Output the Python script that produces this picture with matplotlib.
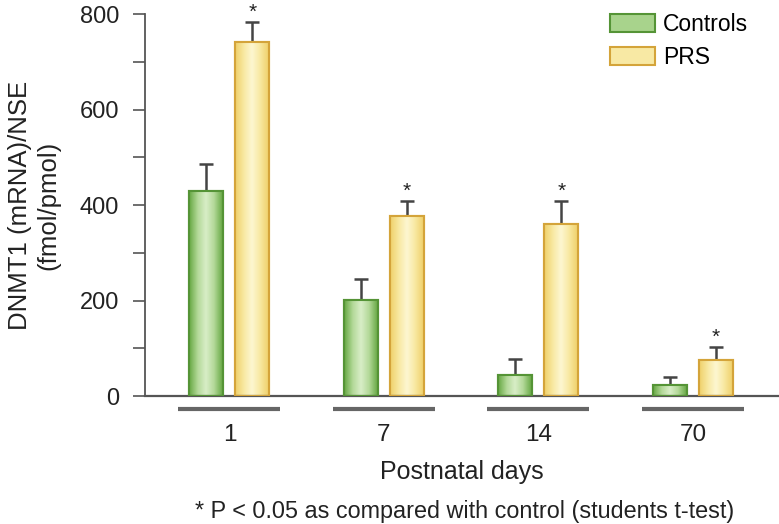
import numpy as np
import matplotlib
matplotlib.use("Agg")
import matplotlib.pyplot as plt
from matplotlib.colors import LinearSegmentedColormap
from matplotlib.patches import Patch
import matplotlib.transforms as mtransforms

plt.rcParams['font.family'] = ['Liberation Sans', 'DejaVu Sans']

days = ["1", "7", "14", "70"]
controls = [430, 202, 44, 23]
controls_err = [56, 43, 33, 18]
prs = [742, 377, 360, 75]
prs_err = [42, 32, 49, 28]
significant = [True, True, True, True]

fig = plt.figure(figsize=(7.79, 5.24), dpi=100)
ax = fig.add_axes([0.186, 0.244, 0.814, 0.729])

x = np.arange(len(days))
w = 0.22
off = 0.149

green_cmap = LinearSegmentedColormap.from_list("g", ["#66a843", "#b2d897", "#d9eec8", "#b2d897", "#66a843"])
yellow_cmap = LinearSegmentedColormap.from_list("y", ["#efd06a", "#f8e8a0", "#fdf7d2", "#f8e8a0", "#efd06a"])

b1 = ax.bar(x - off, controls, w, color="#9ccc7e", edgecolor="#559436", linewidth=1.5, zorder=2)
b2 = ax.bar(x + off, prs, w, color="#f6e49a", edgecolor="#d4a43a", linewidth=1.5, zorder=2)

grad = np.linspace(0, 1, 64).reshape(1, -1)
for bars, cmap in ((b1, green_cmap), (b2, yellow_cmap)):
    for p in bars:
        x0, y0 = p.get_x(), p.get_y()
        im = ax.imshow(grad, cmap=cmap, aspect='auto',
                       extent=(x0, x0 + p.get_width(), y0, y0 + p.get_height()),
                       zorder=2.5, interpolation='bicubic')
        im.set_clip_path(p)
        p2 = plt.Rectangle((x0, y0), p.get_width(), p.get_height(), fill=False,
                           edgecolor=p.get_edgecolor(), linewidth=1.5, zorder=3)
        ax.add_patch(p2)

err_kw = dict(fmt='none', ecolor='#444444', elinewidth=1.8, capsize=5, capthick=1.8, zorder=1.5)
ax.errorbar(x - off, controls, yerr=[np.zeros(len(x)), controls_err], **err_kw)
ax.errorbar(x + off, prs, yerr=[np.zeros(len(x)), prs_err], **err_kw)

for xi, v, e, s in zip(x, prs, prs_err, significant):
    if s:
        ax.annotate("*", (xi + off, v + e), xytext=(0, 0), textcoords='offset points',
                    ha='center', va='bottom', fontsize=15, color='#222222')

ax.set_xlim(-0.547, 3.557)
ax.set_ylim(0, 800)
ax.set_yticks([0, 200, 400, 600, 800])
ax.set_yticks([100, 300, 500, 700], minor=True)
ax.tick_params(axis='y', which='both', length=8.5, width=1.2, color='#555555',
               labelsize=17, pad=10, labelcolor='#222222')
ax.set_xticks(x)
ax.set_xticklabels(days)
ax.tick_params(axis='x', length=0, labelsize=17.5, pad=20, labelcolor='#222222')

for s in ('top', 'right'):
    ax.spines[s].set_visible(False)
ax.spines['left'].set_color('#555555')
ax.spines['left'].set_linewidth(1.3)
ax.spines['bottom'].set_color('#555555')
ax.spines['bottom'].set_linewidth(1.6)

trans = mtransforms.blended_transform_factory(ax.transData, ax.transAxes)
for xi in x:
    ax.plot([xi - 0.33, xi + 0.33], [-0.034, -0.034], transform=trans, color='#666666',
            linewidth=3, clip_on=False, solid_capstyle='butt')

ax.set_ylabel("DNMT1 (mRNA)/NSE\n(fmol/pmol)", fontsize=18.5, color='#222222', labelpad=14,
              linespacing=1.25)
ax.set_xlabel("Postnatal days", fontsize=18, color='#222222', labelpad=10)

handles = [Patch(facecolor="#a8d38c", edgecolor="#559436", linewidth=1.5),
           Patch(facecolor="#f8e9a4", edgecolor="#d4a43a", linewidth=1.5)]
ax.legend(handles, ["Controls", "PRS"], loc='upper left',
          bbox_to_anchor=(610 / 779, 1 - 13 / 524), bbox_transform=fig.transFigure,
          frameon=False, fontsize=16.5, handlelength=1.95, handleheight=0.83,
          handletextpad=0.35, labelspacing=0.45, borderpad=0, borderaxespad=0)

fig.text(0.597, 6 / 524, "* P < 0.05 as compared with control (students t-test)",
         ha='center', va='baseline', fontsize=16.8, color='#222222')

fig.savefig("out.png", dpi=100)
